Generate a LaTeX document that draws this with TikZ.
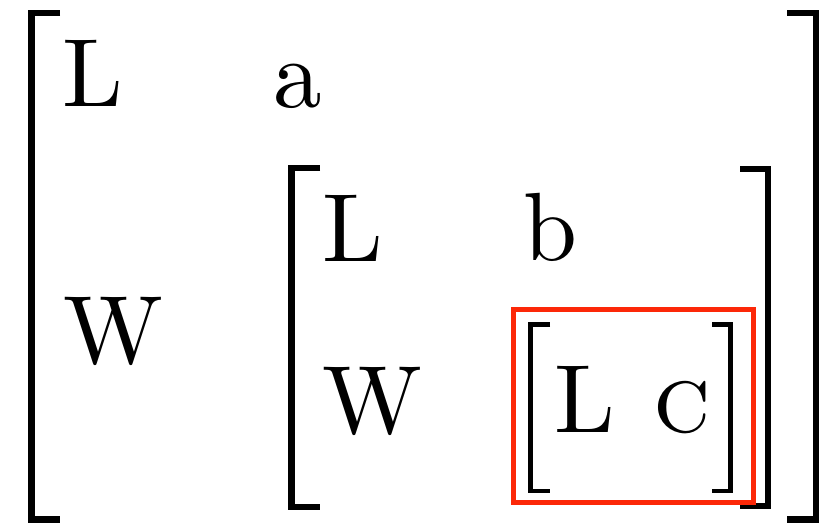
\documentclass[tikz,border=0pt]{standalone}
\usepackage{fontspec}
\setmainfont{lmroman10-regular.otf}[SmallCapsFont=lmromancaps10-regular.otf]
\definecolor{boxred}{RGB}{252,40,8}
\begin{document}
\begin{tikzpicture}[x=1pt,y=-1pt,
  txt/.style={anchor=base west,inner sep=0pt,outer sep=0pt,font=\fontsize{97}{116}\selectfont},
  brk/.style={line width=6.5pt,line join=miter,line cap=butt},
  sbrk/.style={line width=4.5pt,line join=miter,line cap=butt},
  redbox/.style={draw=boxred,line width=4.5pt}]
\useasboundingbox (0,0) rectangle (831,523);
% outer brackets
\draw[brk] (60,13) -- (31.5,13) -- (31.5,519.5) -- (60,519.5);
\draw[brk] (787,13) -- (816,13) -- (816,519.5) -- (787,519.5);
% inner brackets
\draw[brk] (320,168) -- (291.5,168) -- (291.5,507) -- (320,507);
\draw[brk] (740,169) -- (768,169) -- (768,506) -- (740,506);
% innermost brackets
\draw[sbrk] (550,324.5) -- (530.5,324.5) -- (530.5,491) -- (550,491);
\draw[sbrk] (712,324.5) -- (730.5,324.5) -- (730.5,491) -- (712,491);
% red box
\node[redbox,minimum width=240pt,minimum height=193pt,inner sep=0pt,anchor=north west] (hl) at (511,307) {};
% texts
\node[txt] (L1) at (62,106) {L};
\node[txt] (a) at (273,107) {a};
\node[txt] (W1) at (63,363) {W};
\node[txt] (L2) at (322,261) {L};
\node[txt] (b) at (523,260) {b};
\node[txt] (W2) at (322,433) {W};
\node[txt] (L3) at (554,432) {L};
\node[txt] (c) at (653,432) {\textsc{c}};
\end{tikzpicture}
\end{document}
